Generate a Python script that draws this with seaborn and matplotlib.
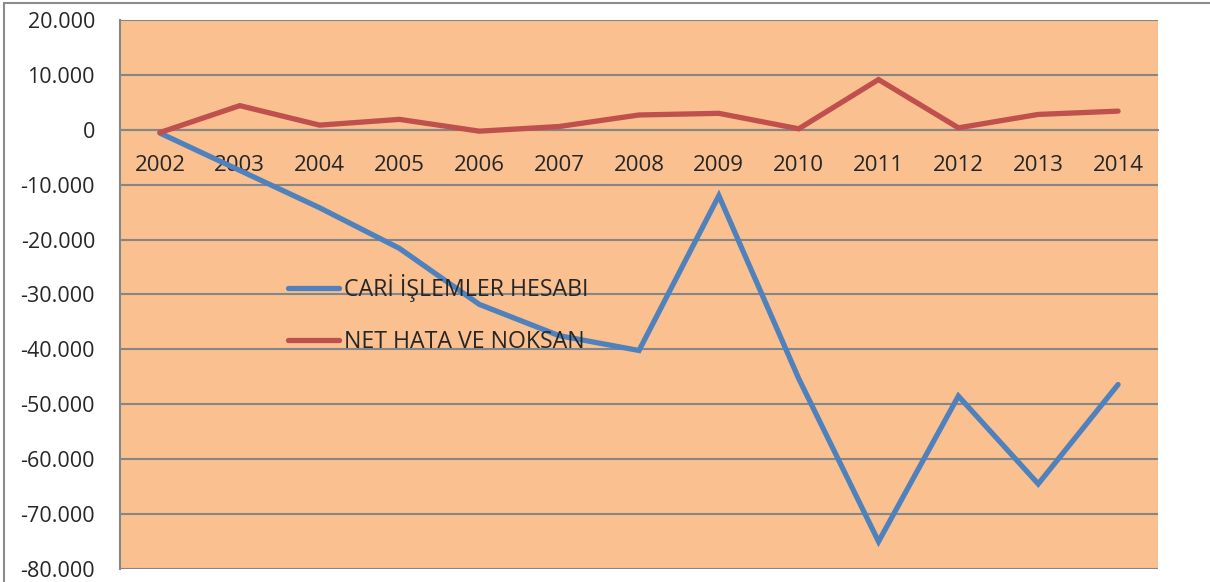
import pandas as pd
import seaborn as sns
import matplotlib.pyplot as plt
from matplotlib.lines import Line2D
from matplotlib.patches import Rectangle
from matplotlib.ticker import FuncFormatter, FixedLocator

years = ['2002', '2003', '2004', '2005', '2006', '2007', '2008',
         '2009', '2010', '2011', '2012', '2013', '2014']
cari = [-600, -7400, -14200, -21600, -31800, -37500, -40200,
        -12000, -45300, -75000, -48500, -64500, -46400]
net_hata = [-500, 4400, 850, 1900, -250, 600, 2700,
            3000, 180, 9150, 360, 2800, 3400]
series_names = ['CARİ İŞLEMLER HESABI', 'NET HATA VE NOKSAN']
colors = ['#4F81BD', '#C0504D']

df = pd.DataFrame({'Yil': list(range(len(years))) * 2,
                   'Deger': cari + net_hata,
                   'Seri': [series_names[0]] * len(years) + [series_names[1]] * len(years)})

sns.set_style('white')
plt.rcParams['font.family'] = ['Open Sans', 'DejaVu Sans']

fig = plt.figure(figsize=(12.1, 5.82), dpi=100)
ax = fig.add_axes([120 / 1210, 1 - 569 / 582, (1158 - 120) / 1210, (569 - 20) / 582])

# outer chart border (cropped at right/bottom)
fig.patches.append(Rectangle((4 / 1210, -0.1), 1.2, 1 - 3 / 582 + 0.1, transform=fig.transFigure,
                             fill=False, edgecolor='#8c8c8c', linewidth=1.5, zorder=0))

ax.set_facecolor('#FAC090')
sns.lineplot(data=df, x='Yil', y='Deger', hue='Seri', palette=colors, linewidth=3.8,
             ax=ax, legend=False, solid_capstyle='round', solid_joinstyle='miter', zorder=3)

ax.set_xlim(-0.5, len(years) - 0.5)
ax.set_ylim(-80000, 20000)
ax.set_yticks(range(-80000, 20001, 10000))
ax.yaxis.set_major_formatter(FuncFormatter(lambda v, p: f'{int(v):,}'.replace(',', '.')))
ax.yaxis.grid(True, color='#868686', linewidth=1.5, zorder=1)
ax.xaxis.grid(False)
ax.set_axisbelow(True)

ax.spines['top'].set_visible(False)
ax.spines['right'].set_visible(False)
ax.spines['bottom'].set_position(('data', 0))
ax.spines['bottom'].set_color('#868686')
ax.spines['bottom'].set_linewidth(1.5)
ax.spines['left'].set_color('#868686')
ax.spines['left'].set_linewidth(1.5)

ax.set_xticks(range(len(years)))
ax.set_xticklabels(years)
ax.xaxis.set_minor_locator(FixedLocator([i - 0.5 for i in range(len(years) + 1)]))
ax.tick_params(axis='x', which='major', length=0, pad=18, labelsize=16)
ax.tick_params(axis='x', which='minor', length=6, width=1.5, color='#868686', direction='out')
ax.tick_params(axis='y', length=6, width=1.5, color='#868686', direction='out', labelsize=15.5, pad=12)
ax.set_xlabel('')
ax.set_ylabel('')

handles = [Line2D([0], [0], color=c, linewidth=3.8, solid_capstyle='round') for c in colors]
ax.legend(handles, series_names, loc='upper left', bbox_to_anchor=(159 / 1038, (569 - 265) / 549),
          frameon=False, fontsize=16.7, handlelength=2.2, handletextpad=0.2, labelspacing=1.2,
          borderaxespad=0)

fig.savefig('out.png', dpi=100)
